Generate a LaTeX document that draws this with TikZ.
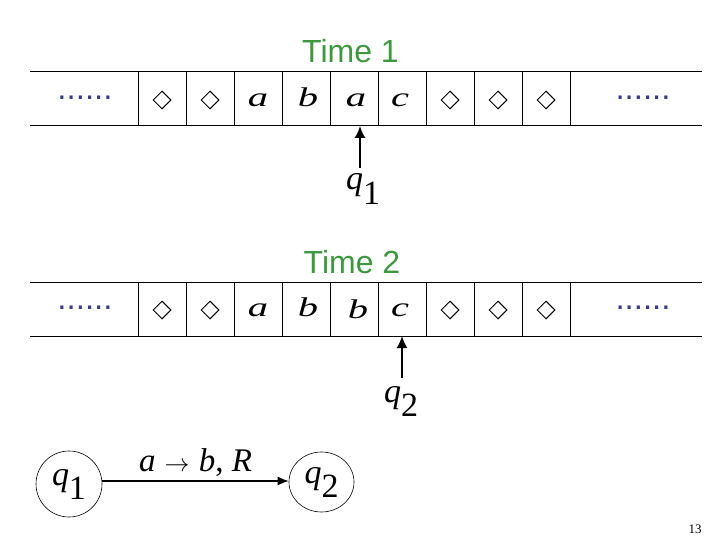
\documentclass[tikz,border=0pt]{standalone}
\usepackage{fontspec}
\setmainfont{Liberation Serif}
\newfontfamily\timefont{Liberation Sans}
\usetikzlibrary{arrows.meta, positioning, shapes.geometric}
\definecolor{tgreen}{HTML}{3C9A3C}
\definecolor{tdots}{HTML}{3A3A8C}
\newcommand{\wide}[1]{\scalebox{1.5}[1]{\textit{#1}}}
\newcommand{\qs}[1]{\textit{q}\raisebox{-14pt}{#1}}
\tikzset{
  >=Latex,
  tapeline/.style={line width=1pt},
  blank/.style={shape=diamond, draw, line width=1pt,
    minimum width=18pt, minimum height=18pt, inner sep=0pt},
  sym/.style={font=\fontsize{27}{30}\selectfont, anchor=base, inner sep=0pt},
  dotrow/.style={text=tdots, font=\fontsize{33}{36}\selectfont\timefont,
    anchor=base, inner sep=0pt},
  timelab/.style={text=tgreen, font=\fontsize{32}{36}\selectfont\timefont,
    anchor=base, inner sep=0pt},
  head/.style={-{Latex[length=12pt,width=11pt]}, line width=1.8pt},
  headlab/.style={font=\fontsize{34}{38}\selectfont, anchor=base, inner sep=0pt},
  state/.style={ellipse, draw, line width=0.6pt, inner sep=0pt,
    font=\fontsize{34}{38}\selectfont},
  trans/.style={-{Latex[length=11pt,width=9pt]}, line width=1.4pt}
}
\begin{document}
\begin{tikzpicture}[x=1pt,y=-1pt]
  \useasboundingbox (0,0) rectangle (720,540);

  % tape at time 1
  \node[timelab] (time1) at (350.5,63) {Time 1};
  \draw[tapeline] (30,72) -- (702,72) (30,126) -- (702,126);
  \foreach \k in {0,...,9}
    \draw[tapeline] (138+48*\k,72) -- (138+48*\k,126);
  \node[dotrow] (left1) at (85,99.5) {......};
  \node[dotrow] (right1) at (643,99.5) {......};
  \foreach \k in {0,1,6,7,8}
    \node[blank] (c1\k) at (162+48*\k,100) {};
  \node[sym] (c12) at (258,106.5) {\wide{a}};
  \node[sym] (c13) at (308,106.5) {\wide{b}};
  \node[sym] (c14) at (356,106.5) {\wide{a}};
  \node[sym] (c15) at (400,106.5) {\wide{c}};
  \coordinate (pos1) at (360,126);
  \node[headlab] (q1) at (363,190) {\qs{1}};
  \draw[head] (360,168) -- (pos1);

  % tape at time 2
  \node[timelab] (time2) at (352,273) {Time 2};
  \draw[tapeline] (30,282) -- (702,282) (30,336) -- (702,336);
  \foreach \k in {0,...,9}
    \draw[tapeline] (138+48*\k,282) -- (138+48*\k,336);
  \node[dotrow] (left2) at (85,309.5) {......};
  \node[dotrow] (right2) at (643,309.5) {......};
  \foreach \k in {0,1,6,7,8}
    \node[blank] (c2\k) at (162+48*\k,310) {};
  \node[sym] (c22) at (258,316.5) {\wide{a}};
  \node[sym] (c23) at (308,316.5) {\wide{b}};
  \node[sym] (c24) at (358,318) {\wide{b}};
  \node[sym] (c25) at (400,316.5) {\wide{c}};
  \coordinate (pos2) at (402,336);
  \node[headlab] (q2) at (401,402) {\qs{2}};
  \draw[head] (402,378) -- (pos2);

  % the transition
  \node[state,minimum width=66pt,minimum height=66pt] (s1) at (69,484) {\qs{1}};
  \node[state,minimum width=65pt,minimum height=60pt] (s2) at (321.5,482) {\qs{2}};
  \draw[trans] (s1.east |- 0,481) -- node[above=4pt,font=\fontsize{33}{36}\selectfont,inner sep=0pt] {\textit{a}\;$\rightarrow$\;\textit{b}, \textit{R}} (s2.west |- 0,481);

  \node[font=\fontsize{13}{15}\selectfont,anchor=base] (page) at (695,533) {13};
\end{tikzpicture}
\end{document}
